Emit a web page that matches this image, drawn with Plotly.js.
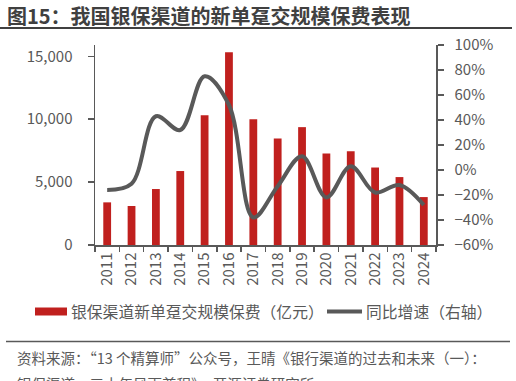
<!DOCTYPE html>
<html>
<head>
<meta charset="utf-8">
<script src="https://cdn.plot.ly/plotly-3.0.1.min.js"></script>
<style>html,body{margin:0;padding:0;background:#fff;}#chart{width:516px;height:381px;}</style>
</head>
<body>
<div id="chart"></div>
<script>
// Data
const years = ["2011","2012","2013","2014","2015","2016","2017","2018","2019","2020","2021","2022","2023","2024"];
const premium = [3390, 3100, 4450, 5880, 10320, 15320, 10000, 8470, 9370, 7280, 7460, 6160, 5400, 3810];
const growth = [-16, -11, 43, 32, 75, 52, -38, -13, 11, -22, 3, -18, -12, -28];
const titleText = "图15：我国银保渠道的新单趸交规模保费表现";
const legendBar = "银保渠道新单趸交规模保费（亿元）";
const legendLine = "同比增速（右轴）";
const sourceLine1 = "资料来源：“13 个精算师”公众号，王晴《银行渠道的过去和未来（一）：";
const sourceLine2 = "银保渠道，三十年风雨兼程》，开源证券研究所";

const W = 516, H = 381;
const L = 95, R = 436, T = 45, B = 245;
const pw = R - L, ph = B - T;
const fx = x => (x - L) / pw;
const fy = y => (B - y) / ph;

const font = '"Noto Sans CJK SC", "Noto Sans", sans-serif';
const grey = '#595959';
const red = '#C0201E';

const traces = [
  {type: 'bar', x: years, y: premium, marker: {color: red}, yaxis: 'y', showlegend: false, hoverinfo: 'skip'},
  {type: 'scatter', mode: 'lines', x: years, y: growth, yaxis: 'y2',
   line: {color: grey, width: 4, shape: 'spline', smoothing: 1.0}, showlegend: false, hoverinfo: 'skip'}
];

const layout = {
  width: W, height: H,
  margin: {l: L, r: W - R, t: T, b: H - B},
  paper_bgcolor: '#fff', plot_bgcolor: '#fff',
  font: {family: font, color: grey, size: 15},
  bargap: 0.68,
  showlegend: false,
  xaxis: {
    type: 'category', showline: true, linecolor: grey, linewidth: 1.5,
    ticks: 'outside', tickson: 'boundaries', ticklen: 5, tickcolor: grey, tickwidth: 1.5,
    tickangle: -90, tickfont: {size: 15, color: grey}, showgrid: false, zeroline: false
  },
  yaxis: {
    range: [0, 15900], tickvals: [0, 5000, 10000, 15000], ticktext: ["0", "5,000", "10,000", "15,000"],
    showline: true, linecolor: grey, linewidth: 1.5, ticks: 'outside', ticklen: 6, tickcolor: grey, tickwidth: 1.5,
    showgrid: false, zeroline: false, tickfont: {size: 15, color: grey}, ticklabelstandoff: 12
  },
  yaxis2: {
    overlaying: 'y', side: 'right', range: [-60, 100], dtick: 20, tick0: -60, ticksuffix: '%',
    showline: true, linecolor: grey, linewidth: 1.5, ticks: 'outside', ticklen: 6, tickcolor: grey, tickwidth: 1.5,
    showgrid: false, zeroline: false, tickfont: {size: 15, color: grey}, ticklabelstandoff: 8
  },
  shapes: [
    {type: 'line', xref: 'paper', yref: 'paper', x0: fx(0), x1: fx(512), y0: fy(28), y1: fy(28), line: {color: '#404040', width: 2}},
    {type: 'line', xref: 'paper', yref: 'paper', x0: fx(6), x1: fx(510), y0: fy(341.5), y1: fy(341.5), line: {color: grey, width: 1.5}},
    {type: 'rect', xref: 'paper', yref: 'paper', x0: fx(35), x1: fx(67), y0: fy(315.5), y1: fy(307.5), fillcolor: red, line: {width: 0}},
    {type: 'line', xref: 'paper', yref: 'paper', x0: fx(327), x1: fx(362), y0: fy(311.5), y1: fy(311.5), line: {color: grey, width: 4}}
  ],
  annotations: [
    {xref: 'paper', yref: 'paper', x: fx(5), y: fy(15), xanchor: 'left', yanchor: 'middle', showarrow: false,
     text: '<b>' + titleText + '</b>', font: {size: 20, color: '#404040', family: font}},
    {xref: 'paper', yref: 'paper', x: fx(69), y: fy(311.5), xanchor: 'left', yanchor: 'middle', showarrow: false,
     text: legendBar, font: {size: 15.8, color: grey, family: font}},
    {xref: 'paper', yref: 'paper', x: fx(364), y: fy(311.5), xanchor: 'left', yanchor: 'middle', showarrow: false,
     text: legendLine, font: {size: 15.8, color: grey, family: font}},
    {xref: 'paper', yref: 'paper', x: fx(15), y: fy(357), xanchor: 'left', yanchor: 'middle', showarrow: false,
     text: sourceLine1, font: {size: 14.5, color: grey, family: font}},
    {xref: 'paper', yref: 'paper', x: fx(15), y: fy(383), xanchor: 'left', yanchor: 'middle', showarrow: false,
     text: sourceLine2, font: {size: 14.5, color: grey, family: font}}
  ]
};

Plotly.newPlot('chart', traces, layout, {staticPlot: true, displayModeBar: false});
</script>
</body>
</html>
